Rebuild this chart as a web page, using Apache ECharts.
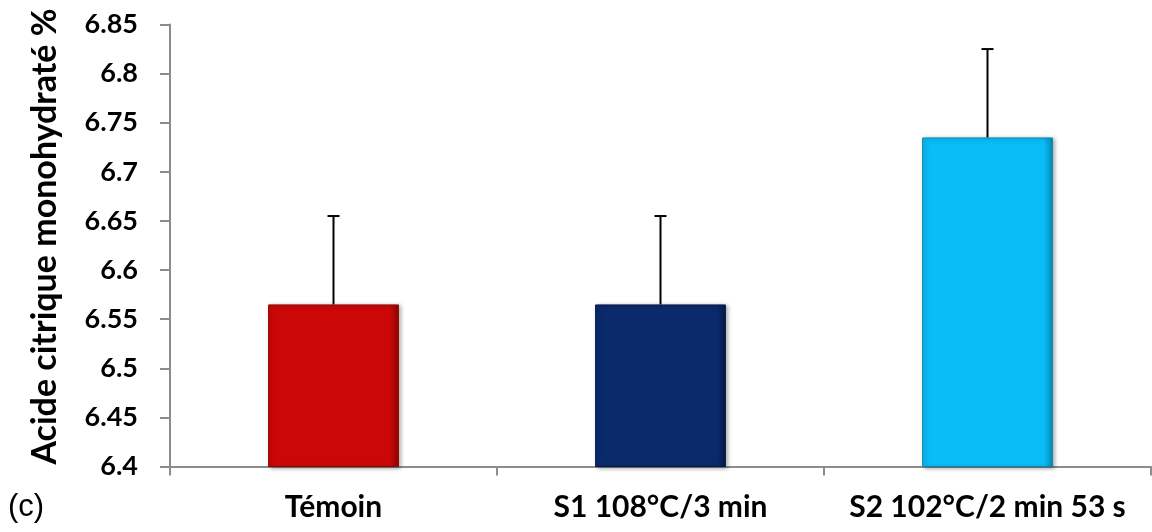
<!DOCTYPE html>
<html>
<head>
<meta charset="utf-8">
<script src="https://cdn.jsdelivr.net/npm/echarts@6/dist/echarts.min.js"></script>
<style>
  html, body { margin: 0; padding: 0; background: #ffffff; }
  #chart { width: 1152px; height: 532px; }
</style>
</head>
<body>
<div id="chart"></div>
<script>
// Citric acid monohydrate content per treatment (mean and +SD)
const categories = ['Témoin', 'S1 108°C/3 min', 'S2 102°C/2 min 53 s'];
const means = [6.565, 6.565, 6.735];
const errors = [0.09, 0.09, 0.09];
const barColors = ['#CC0707', '#0B2A6C', '#0ABDF6'];
const barBorders = ['#8E0404', '#061A48', '#0789B4'];
const yMin = 6.4;
const yMax = 6.85;
const yStep = 0.05;

const fontFamily = 'Lato, "Open Sans", "Noto Sans", sans-serif';

const chart = echarts.init(document.getElementById('chart'), null, { renderer: 'canvas' });

const barData = means.map((v, i) => ({
  value: v,
  itemStyle: {
    color: {
      type: 'linear', x: 0, y: 0, x2: 1, y2: 0,
      colorStops: [
        { offset: 0, color: barColors[i] },
        { offset: 0.93, color: barColors[i] },
        { offset: 1, color: barBorders[i] }
      ]
    },
    borderColor: barBorders[i],
    borderWidth: 1,
    shadowColor: 'rgba(0,0,0,0.35)',
    shadowBlur: 4,
    shadowOffsetX: 2,
    shadowOffsetY: 1
  }
}));

const errData = means.map((v, i) => [i, v, v + errors[i]]);

chart.setOption({
  animation: false,
  backgroundColor: '#ffffff',
  grid: { left: 170, right: 1, top: 24.5, bottom: 65.5, containLabel: false },
  graphic: [{
    type: 'text',
    left: 8,
    top: 492,
    style: { text: '(c)', font: '31px "Liberation Sans", Arial, sans-serif', fill: '#000' }
  }],
  xAxis: {
    type: 'category',
    data: categories,
    boundaryGap: true,
    axisLine: { lineStyle: { color: '#8C8C8C', width: 2 } },
    axisTick: { show: true, length: 9, lineStyle: { color: '#8C8C8C', width: 2 } },
    axisLabel: {
      interval: 0,
      margin: 26,
      color: '#000',
      fontFamily: fontFamily,
      fontWeight: 'bold',
      fontSize: 30
    }
  },
  yAxis: {
    type: 'value',
    min: yMin,
    max: yMax,
    interval: yStep,
    name: 'Acide citrique monohydraté %',
    nameLocation: 'middle',
    nameGap: 108,
    nameRotate: 90,
    nameTextStyle: {
      color: '#000',
      fontFamily: fontFamily,
      fontWeight: 'bold',
      fontSize: 34,
      padding: [0, 0, 0, 18]
    },
    splitLine: { show: false },
    axisLine: { show: true, lineStyle: { color: '#8C8C8C', width: 2 } },
    axisTick: { show: true, length: 10, lineStyle: { color: '#8C8C8C', width: 2 } },
    axisLabel: {
      margin: 32,
      color: '#000',
      fontFamily: fontFamily,
      fontWeight: 'bold',
      fontSize: 27,
      formatter: v => String(parseFloat(v.toFixed(2)))
    }
  },
  series: [
    {
      type: 'bar',
      data: barData,
      barWidth: '40%'
    },
    {
      type: 'custom',
      data: errData,
      z: 5,
      renderItem: function (params, api) {
        const x = api.value(0);
        const base = api.coord([x, api.value(1)]);
        const top = api.coord([x, api.value(2)]);
        const cap = 6;
        const style = { stroke: '#000', lineWidth: 2 };
        return {
          type: 'group',
          children: [
            { type: 'line', shape: { x1: base[0], y1: base[1], x2: top[0], y2: top[1] }, style: style },
            { type: 'line', shape: { x1: top[0] - cap, y1: top[1], x2: top[0] + cap, y2: top[1] }, style: style }
          ]
        };
      }
    }
  ]
});
</script>
</body>
</html>
